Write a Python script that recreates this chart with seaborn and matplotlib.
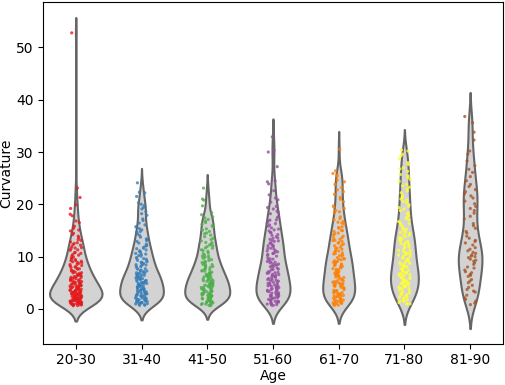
import numpy as np
import pandas as pd
import matplotlib
matplotlib.use("Agg")
import matplotlib.pyplot as plt
import seaborn as sns

# Age groups and curvature values
age_groups = ["20-30", "31-40", "41-50", "51-60", "61-70", "71-80", "81-90"]

age_20_30 = [
    0.6, 0.8, 0.7, 1.1, 0.9, 1.4, 1.2, 1.6, 1.0, 1.9, 1.3, 1.7, 0.8, 1.5, 1.8, 1.1, 0.9, 1.4, 1.6, 1.2, 1.9, 1.0,
    2.1, 2.4, 2.2, 2.9, 3.3, 2.6, 3.8, 2.0, 3.1, 2.7, 3.5, 2.3, 3.9, 2.8, 3.2, 2.5, 3.6, 2.1, 3.0, 3.7, 2.4, 3.4,
    2.9, 2.2, 3.5, 3.1,
    4.2, 4.8, 5.3, 4.0, 5.9, 4.5, 5.1, 4.3, 5.6, 4.9, 4.1, 5.4, 4.7, 5.8, 4.4, 5.0, 4.6, 5.2, 5.7, 4.2,
    6.3, 7.1, 6.8, 7.7, 6.0, 7.4, 6.5, 7.9, 6.9, 7.2, 6.2, 7.6, 6.6, 7.0, 6.4,
    8.2, 9.1, 8.7, 9.6, 8.0, 9.3, 8.5, 9.9, 8.9, 9.4, 8.3, 9.0,
    10.4, 11.2, 10.8, 11.7, 10.1, 11.5, 10.6, 11.9,
    12.3, 13.1, 12.8, 13.6, 12.5, 13.9,
    14.2, 14.9, 15.4, 15.8,
    16.5, 17.8, 19.2, 19.9,
    21.3, 23.1,
    52.8,
    0.62, 1.07, 1.48, 1.83, 0.74, 1.26, 1.69, 0.97, 1.38, 1.77,
    2.06, 2.47, 2.83, 3.28, 3.61, 2.14, 2.58, 2.92, 3.37, 3.74, 2.27, 2.66, 3.04, 3.43, 3.88,
    4.07, 4.46, 4.83, 5.27, 5.62, 4.18, 4.57, 4.94, 5.38, 5.76,
    6.03, 6.48, 6.87, 7.23, 7.66, 6.17, 6.58,
    8.04, 8.47, 8.86, 9.22, 9.68,
    10.27, 10.73, 11.28, 11.64,
    12.17, 12.66, 13.24,
    14.46, 15.07,
    16.8, 18.1,
]
age_31_40 = [
    0.7, 1.2, 0.9, 1.6, 1.4, 0.8, 1.9, 1.1, 1.5, 1.3, 1.8, 1.0, 1.7, 1.2,
    2.3, 2.8, 3.4, 2.1, 3.7, 2.6, 3.1, 2.9, 3.9, 2.4, 3.3, 2.0, 3.6, 2.7, 3.0, 2.5, 3.8, 3.2,
    4.1, 4.7, 5.2, 4.4, 5.8, 4.9, 5.5, 4.2, 5.0, 4.6, 5.7, 4.3, 5.4, 4.8, 5.1, 5.9,
    6.2, 6.9, 7.4, 6.5, 7.8, 6.1, 7.1, 6.7, 7.6, 6.4, 7.3, 6.8, 7.0,
    8.3, 9.0, 8.7, 9.5, 8.1, 9.8, 8.5, 9.2, 8.9, 9.6, 8.4,
    10.2, 10.9, 11.5, 10.6, 11.8, 10.4, 11.1, 11.6,
    12.4, 13.2, 12.9, 13.7, 12.1, 13.4,
    14.3, 15.1, 14.8, 15.7,
    16.4, 17.2, 17.9,
    18.6, 19.4, 19.8,
    20.3, 21.5, 22.2, 24.1,
    0.66, 1.08, 1.47, 1.86, 0.93, 1.33, 1.72,
    2.04, 2.46, 2.87, 3.26, 3.67, 2.17, 2.58, 2.96, 3.39, 3.78,
    4.06, 4.44, 4.87, 5.24, 5.63, 4.16, 4.57, 4.95, 5.36, 5.77,
    6.05, 6.47, 6.86, 7.24, 7.67, 6.18, 6.56,
    8.06, 8.44, 8.86, 9.27, 9.66,
    10.08, 10.47, 10.86, 11.27,
    12.06, 12.57, 13.08,
    14.05, 14.66, 15.35,
    16.05, 16.9,
    18.2, 19.1, 20.0, 22.3,
]
age_41_50 = [
    0.8, 1.3, 1.0, 1.7, 0.6, 1.5, 1.9, 1.1, 1.4, 0.9, 1.8, 1.2, 1.6,
    2.2, 2.9, 3.5, 2.4, 3.8, 2.7, 3.1, 2.0, 3.6, 2.5, 3.3, 2.8, 3.9, 2.1, 3.0, 2.6, 3.4,
    4.3, 4.9, 5.4, 4.1, 5.7, 4.6, 5.2, 4.4, 5.9, 4.8, 5.0, 4.2, 5.5, 4.7, 5.3, 5.8,
    6.1, 6.8, 7.3, 6.4, 7.7, 6.6, 7.0, 6.2, 7.5, 6.9, 7.2, 6.3, 7.9,
    8.2, 8.9, 9.4, 8.5, 9.7, 8.1, 9.1, 8.7, 9.9, 8.4,
    10.3, 11.0, 10.7, 11.6, 10.1, 11.3, 11.9,
    12.2, 13.0, 12.7, 13.5, 12.4, 13.8,
    14.1, 14.8, 15.3, 14.5, 15.9,
    16.2, 17.1, 17.6, 16.8,
    18.4, 19.7, 20.8,
    23.1,
    0.67, 1.16, 1.56, 1.94, 0.85, 1.44,
    2.07, 2.48, 2.86, 3.27, 3.66, 2.18, 2.57, 2.97, 3.36, 3.75,
    4.06, 4.47, 4.86, 5.26, 5.65, 4.17, 4.55, 4.96, 5.37,
    6.05, 6.47, 6.86, 7.26, 7.65, 6.57,
    8.04, 8.46, 8.87, 9.25, 9.66,
    10.06, 10.55, 11.15, 11.65,
    12.06, 12.65, 13.26,
    14.36, 15.06, 15.7,
    16.5, 17.4, 18.0,
    21.0,
]
age_51_60 = [
    0.7, 1.4, 1.0, 1.8, 0.9, 1.6, 1.2, 1.9, 0.8, 1.5, 1.3,
    2.3, 3.0, 2.7, 3.6, 2.1, 3.3, 2.5, 3.9, 2.8, 3.1, 2.2, 3.7, 2.6, 3.4,
    4.2, 4.9, 5.5, 4.4, 5.8, 4.7, 5.1, 4.0, 5.6, 4.6, 5.3, 4.3, 5.9,
    6.3, 7.0, 6.6, 7.5, 6.1, 7.8, 6.8, 7.2, 6.4, 7.6, 6.9,
    8.1, 8.8, 9.3, 8.4, 9.7, 8.6, 9.0, 8.2, 9.5, 8.9,
    10.4, 11.1, 10.8, 11.6, 10.2, 11.4, 10.6, 11.9, 10.9,
    12.3, 13.0, 12.6, 13.5, 12.1, 13.8, 12.9, 13.3,
    14.2, 14.9, 15.5, 14.6, 15.8, 15.1,
    16.3, 17.0, 16.8, 17.7, 16.5,
    18.2, 19.1, 18.7, 19.6,
    20.4, 21.2, 21.8,
    22.6, 24.3, 24.5,
    27.2, 30.4, 32.9,
    0.66, 1.17, 1.66, 0.95, 1.45,
    2.06, 2.55, 3.05, 3.55, 2.35, 2.86, 3.36, 3.86,
    4.05, 4.56, 5.06, 5.57, 4.36, 4.86, 5.36,
    6.05, 6.56, 7.06, 7.57, 6.36, 6.86,
    8.06, 8.56, 9.06, 9.57, 8.36,
    10.07, 10.57, 11.07, 11.56,
    12.07, 12.56, 13.06, 13.57,
    14.06, 14.57, 15.26,
    16.06, 16.97, 17.46,
    18.46, 19.37,
    20.86, 23.9,
    30.0,
]
age_61_70 = [
    0.8, 1.5, 1.1, 1.9, 0.7, 1.3, 1.7, 1.0, 1.6, 1.2,
    2.4, 3.1, 2.8, 3.7, 2.2, 3.4, 2.6, 3.9, 2.0, 3.2, 2.9, 3.5, 2.5,
    4.1, 4.8, 5.4, 4.3, 5.7, 4.6, 5.1, 4.9, 5.9, 4.4, 5.2, 4.7,
    6.2, 6.9, 7.5, 6.4, 7.8, 6.7, 7.1, 6.0, 7.3, 6.6, 7.7,
    8.3, 9.0, 8.6, 9.5, 8.1, 9.8, 8.8, 9.2, 8.4, 9.6, 8.9,
    10.2, 10.9, 11.4, 10.5, 11.8, 10.7, 11.1, 10.3, 11.6,
    12.4, 13.1, 12.7, 13.6, 12.2, 13.9, 12.9, 13.3,
    14.1, 14.8, 15.4, 14.5, 15.7, 15.0,
    16.2, 17.0, 16.7, 17.6, 16.4,
    18.3, 19.2, 18.8, 19.7,
    20.5, 21.3, 21.9,
    22.4, 23.2, 23.8,
    24.6, 25.3, 25.9, 26.4,
    30.5,
    0.66, 1.16, 1.66, 1.05, 1.45,
    2.06, 2.56, 3.06, 3.56, 2.36, 2.86, 3.36,
    4.06, 4.56, 5.06, 5.56, 4.36, 4.86, 5.36,
    6.06, 6.56, 7.06, 7.56, 6.36, 6.86,
    8.06, 8.56, 9.06, 9.56, 8.36, 9.36,
    10.06, 10.56, 11.06, 11.56,
    12.06, 12.56, 13.06, 13.56,
    14.36, 14.96, 15.56,
    16.56, 17.26,
    18.56, 19.46,
    20.96, 22.76,
    24.3, 25.6,
]
age_71_80 = [
    0.9, 1.5, 1.2, 1.8, 1.0, 1.6,
    2.3, 3.0, 2.7, 3.6, 2.1, 3.4, 2.5, 3.9, 2.9,
    4.2, 4.8, 5.3, 4.4, 5.7, 4.6, 5.1, 4.0, 5.5, 4.9, 5.9, 4.3,
    6.1, 6.7, 7.2, 6.4, 7.6, 6.9, 7.0, 6.3, 7.4, 6.6, 7.9,
    8.2, 8.9, 9.4, 8.5, 9.8, 8.7, 9.1, 8.3, 9.6,
    10.3, 11.0, 10.6, 11.5, 10.1, 11.8, 10.8, 11.2, 10.4,
    12.2, 12.9, 13.4, 12.5, 13.8, 12.7, 13.1, 12.3, 13.6,
    14.2, 14.9, 15.5, 14.6, 15.8, 14.4, 15.2,
    16.3, 17.0, 16.7, 17.5, 16.1, 17.8,
    18.4, 19.1, 18.8, 19.6, 19.9,
    20.3, 21.0, 21.6, 20.8,
    22.2, 22.9, 23.5, 23.8,
    24.4, 25.1, 25.7,
    26.3, 27.0, 27.6,
    28.7, 29.6, 30.4,
    0.96, 1.46, 1.76,
    2.26, 2.76, 3.26, 3.76,
    4.16, 4.56, 4.96, 5.36, 5.76, 4.36, 5.16,
    6.06, 6.46, 6.86, 7.26, 7.66, 6.66,
    8.06, 8.46, 8.86, 9.26, 9.66,
    10.16, 10.66, 11.16, 11.66,
    12.06, 12.56, 13.06, 13.56,
    14.06, 14.66, 15.26,
    16.46, 17.26,
    18.16, 19.36,
    20.56, 21.36,
    22.56, 23.26,
    24.76, 25.46,
    26.76, 27.96,
    29.26, 30.2,
]
age_81_90 = [
    0.8, 1.5, 2.1, 1.1, 2.6, 1.8,
    3.2, 4.1, 5.0, 3.7, 5.6, 4.5, 3.4, 5.3,
    6.2, 7.1, 8.0, 6.6, 8.5, 7.4, 6.9, 8.8, 7.8, 6.4,
    9.1, 10.0, 10.8, 9.5, 11.4, 10.3, 9.8, 11.7, 10.6, 9.3, 11.1, 10.1,
    12.2, 13.1, 13.9, 12.6, 14.5, 12.9, 13.5, 14.8,
    15.4, 16.3, 17.2, 15.9, 17.7,
    18.3, 19.2, 20.1, 18.8, 20.6, 19.6,
    21.2, 22.0, 22.8, 21.6, 23.4, 22.4, 23.8,
    24.5, 25.3, 26.1, 26.7,
    27.4, 28.3, 29.6,
    30.2, 32.3,
    33.8, 35.6, 36.8,
]

values = [age_20_30, age_31_40, age_41_50, age_51_60, age_61_70, age_71_80, age_81_90]
df = pd.DataFrame({
    "Age": np.concatenate([[g] * len(v) for g, v in zip(age_groups, values)]),
    "Curvature": np.concatenate(values),
})

fig, ax = plt.subplots(figsize=(5.05, 3.85), dpi=100)
plt.subplots_adjust(left=0.085, right=0.996, bottom=0.106, top=0.995)

sns.violinplot(data=df, x="Age", y="Curvature", order=age_groups, color="lightgray",
               inner=None, linecolor="#666666", linewidth=1.5, bw_method=0.25, ax=ax)
sns.stripplot(data=df, x="Age", y="Curvature", order=age_groups, hue="Age",
              hue_order=age_groups, palette="Set1", size=2.3, alpha=0.8, jitter=0.09,
              legend=False, ax=ax)

ax.tick_params(length=3.5, pad=3)
ax.set_xlabel("Age", labelpad=1)
ax.set_ylabel("Curvature", labelpad=2)

plt.savefig("out.png", dpi=100)
